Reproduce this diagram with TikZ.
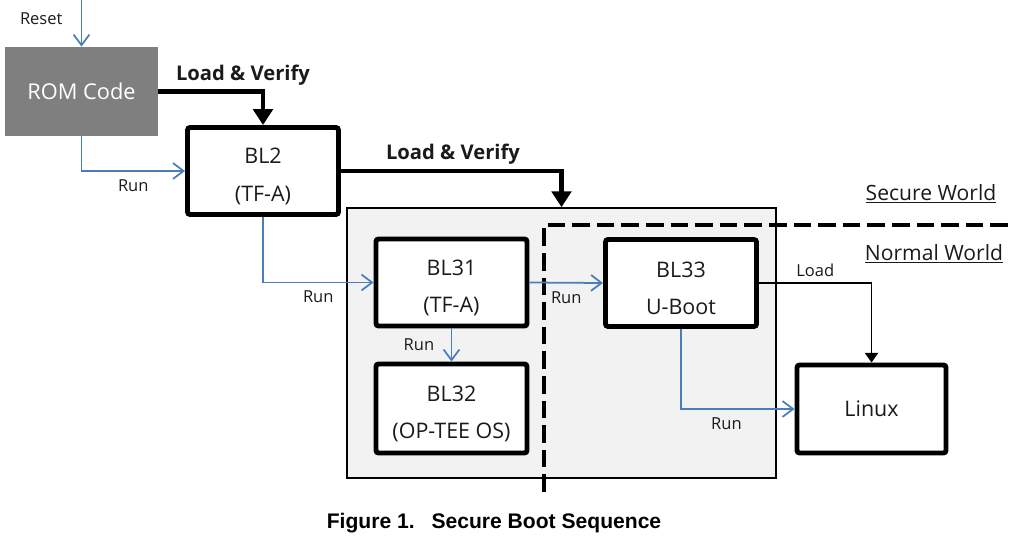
\documentclass[tikz,border=0pt]{standalone}
\usepackage{fontspec}
\setmainfont{Open Sans}
\newfontfamily\capfont{Liberation Sans}
\usetikzlibrary{arrows.meta}
\definecolor{runblue}{HTML}{4A7EBB}
\definecolor{romgray}{HTML}{7F7F7F}
\definecolor{zonegray}{HTML}{F2F2F2}
\definecolor{ink}{HTML}{1A1A1A}
\newcommand{\tstrut}{\rule{0pt}{15pt}}
\tikzset{blk/.style={draw=black, fill=white, line width=2.8pt, rounded corners=1.5pt, minimum width=3.02cm, minimum height=1.74cm, align=center, text=ink, font=\fontsize{12.2}{21.5}\selectfont}, rom/.style={fill=romgray, minimum width=3.06cm, minimum height=1.78cm, text=white, font=\fontsize{12.4}{14}\selectfont}, zone/.style={draw=black, fill=zonegray, line width=.9pt, minimum width=8.58cm, minimum height=5.4cm}, run/.style={-{Straight Barb[length=6pt,width=9pt]}, line width=1pt, color=runblue}, verify/.style={-{Triangle[length=9pt,width=11pt]}, line width=2.8pt}, load/.style={-{Triangle[length=5.5pt,width=7.5pt]}, line width=1pt}, lab/.style={font=\bfseries\fontsize{11.5}{14}\selectfont, text=ink}, sml/.style={font=\fontsize{9.4}{11}\selectfont, text=ink}, world/.style={font=\fontsize{12}{14}\selectfont, text=ink}}
\begin{document}
\begin{tikzpicture}[x=.2mm,y=-.2mm]
\useasboundingbox (0,0) rectangle (1015,548);
\node[zone] (tee) at (561.5,343) {};
\draw[line width=1.9pt, dash pattern=on 10pt off 4pt] (544,492)--(544,225)--(1008,225);
\node[rom] (rom) at (81.5,91.5) {ROM Code};
\node[blk] (bl2) at (263,171) {\tstrut BL2\\(TF-A)};
\node[blk] (bl31) at (451.5,282.5) {\tstrut BL31\\(TF-A)};
\node[blk, minimum height=1.78cm] (bl32) at (451.5,408.5) {\tstrut BL32\\(OP-TEE OS)};
\node[blk] (bl33) at (681,283) {\tstrut BL33\\U-Boot};
\node[blk, minimum width=2.98cm, minimum height=1.76cm] (linux) at (871.5,409) {Linux};
\coordinate (rst) at (81.5,0);
\draw[run] (rst) -- (rom.north) node[sml, pos=.4, left=7pt] {Reset};
\draw[verify] (rom.east) -| (bl2.north); \node[lab] (lv1) at (243,75) {Load \& Verify};
\draw[run] (rom.south) |- (bl2.west) node[sml, pos=.75, below=1pt] {Run};
\draw[verify] (bl2.east) -| (tee.north); \node[lab] (lv2) at (453,154) {Load \& Verify};
\draw[run] (bl2.south) |- (bl31.west) node[sml, pos=.75, below=1pt] {Run};
\draw[run] (bl31.south) -- (bl32.north) node[sml, midway, left=6pt] {Run};
\draw[run] (bl31.east) -- (bl33.west) node[sml, midway, below=1pt] {Run};
\draw[load] (bl33.east) -| (linux.north) node[sml, pos=.25, above] {Load};
\draw[run] (bl33.south) |- (linux.west) node[sml, pos=.7, below=1pt] {Run};
\node[world] (sw) at (931,194) {\underline{Secure World}};
\node[world] (nw) at (934,254) {\underline{Normal World}};
\node[font=\capfont\bfseries\fontsize{12}{14}\selectfont] (cap) at (494,523) {Figure 1.\hspace{.8em}Secure Boot Sequence};
\end{tikzpicture}
\end{document}
